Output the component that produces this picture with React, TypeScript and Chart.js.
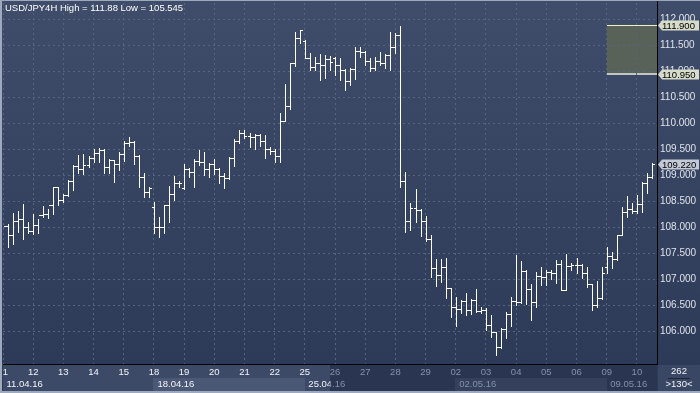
import React, { useEffect, useRef } from "react";
import { Chart, registerables } from "chart.js";

Chart.register(...registerables);

const chartTitle = "USD/JPY4H High = 111.88 Low = 105.545";
const dayLabels = ["11","12","13","14","15","18","19","20","21","22","25","26","27","28","29","02","03","04","05","06","09","10"];
const weekLabels = ["11.04.16","18.04.16","25.04.16","02.05.16","09.05.16"];
const weekStartDay = [0, 5, 10, 15, 20];
const barsPerDay = 6;
const totalSlots = 130;
const yTickValues = [106, 106.5, 107, 107.5, 108, 108.5, 109, 109.5, 110, 110.5, 111, 111.5, 112];
const levelMarkers = [111.9, 110.95];
const bidMarker = 109.22;
const zoneTop = 111.9;
const zoneBottom = 110.95;
const zoneStartBar = 120;
const barCountText = "262";
const visibleBarsText = ">130<";

const opens = [
108.063,108.025,107.852,108.127,108.165,108.000,107.929,108.044,108.237,108.250,
108.423,108.769,108.525,108.621,108.896,109.179,109.115,109.198,109.327,109.423,
109.486,109.165,109.288,109.211,109.410,109.627,109.646,109.371,108.962,108.673,
108.385,108.000,108.012,108.429,108.640,108.858,108.762,109.121,109.058,109.281,
109.250,109.121,109.217,109.121,108.987,108.942,109.327,109.665,109.819,109.756,
109.731,109.775,109.665,109.500,109.467,109.371,110.044,110.333,111.154,111.646,
111.583,111.261,111.088,111.154,111.121,111.236,111.250,111.121,111.025,110.819,
111.044,111.390,111.377,111.198,111.069,111.198,111.154,111.313,111.461,111.698,
108.890,108.121,108.365,108.333,108.121,107.769,107.212,107.083,107.231,106.827,
106.473,106.423,106.589,106.410,106.602,106.396,106.410,106.121,105.981,105.698,
106.039,106.323,106.583,106.569,107.160,106.808,106.563,107.063,107.044,107.140,
107.115,107.289,106.794,107.256,107.275,107.275,107.127,106.904,106.506,106.640,
107.242,107.448,107.385,107.852,108.300,108.346,108.319,108.442,108.846,108.962];

const highs = [
108.140,108.063,108.269,108.319,108.442,108.108,108.256,108.154,108.410,108.346,
108.781,108.781,108.640,108.910,109.198,109.390,109.404,109.371,109.500,109.531,
109.500,109.308,109.294,109.442,109.665,109.731,109.665,109.390,109.038,108.769,
108.492,108.192,108.429,108.794,108.986,108.896,109.217,109.146,109.308,109.486,
109.442,109.231,109.308,109.135,109.050,109.346,109.692,109.871,109.871,109.819,
109.794,109.794,109.775,109.539,109.500,110.204,110.756,111.165,111.761,111.794,
111.600,111.358,111.281,111.327,111.313,111.300,111.281,111.250,111.040,111.058,
111.461,111.473,111.400,111.262,111.281,111.377,111.327,111.761,111.731,111.880,
109.069,108.473,108.737,108.360,108.217,107.852,107.385,107.385,107.404,106.840,
106.665,106.602,106.731,106.615,106.808,106.473,106.442,106.313,105.992,106.058,
106.371,106.660,107.467,107.352,107.180,106.904,107.140,107.242,107.188,107.179,
107.371,107.371,107.487,107.319,107.404,107.290,107.242,106.910,106.967,107.237,
107.627,107.531,107.852,108.385,108.602,108.473,108.621,108.866,109.050,109.242];

const lows = [
107.948,107.615,107.679,107.915,107.769,107.884,107.865,107.884,108.204,108.185,
108.256,108.429,108.492,108.602,108.717,109.038,109.025,109.165,109.261,109.261,
109.038,109.038,108.877,109.102,109.281,109.569,109.211,108.781,108.588,108.588,
107.884,107.819,107.884,108.108,108.525,108.781,108.736,108.973,108.781,109.198,
109.006,108.973,109.025,108.858,108.750,108.923,109.185,109.627,109.711,109.550,
109.500,109.563,109.327,109.410,109.261,109.250,110.044,110.269,111.108,111.538,
111.250,111.025,111.025,110.833,110.865,111.025,110.929,110.833,110.640,110.736,
110.852,111.281,111.121,111.006,111.025,111.121,111.058,111.025,111.358,108.775,
107.915,107.948,108.108,107.833,107.742,107.050,106.871,106.954,106.635,106.269,
106.108,106.346,106.313,106.333,106.377,106.346,106.025,105.896,105.545,105.673,
105.871,106.102,106.506,106.540,106.525,106.217,106.467,106.890,106.881,107.006,
106.923,106.794,106.794,107.179,107.115,107.019,106.858,106.410,106.473,106.621,
107.115,107.212,107.371,107.852,108.204,108.269,108.269,108.300,108.665,108.942];

const closes = [
108.025,107.852,108.127,108.165,108.000,107.929,108.044,108.237,108.250,108.423,
108.769,108.525,108.621,108.896,109.179,109.115,109.198,109.327,109.423,109.486,
109.165,109.288,109.211,109.410,109.627,109.646,109.371,108.962,108.673,108.750,
108.000,108.012,108.429,108.640,108.858,108.846,109.121,109.058,109.281,109.250,
109.121,109.217,109.121,108.987,108.942,109.327,109.665,109.819,109.756,109.731,
109.775,109.665,109.500,109.467,109.371,110.044,110.333,111.154,111.646,111.794,
111.261,111.088,111.154,111.121,111.236,111.185,111.121,111.025,110.819,111.044,
111.390,111.377,111.198,111.069,111.198,111.154,111.313,111.461,111.698,108.890,
108.121,108.365,108.333,108.121,107.769,107.212,107.083,107.231,106.827,106.473,
106.423,106.589,106.410,106.602,106.396,106.410,106.121,105.981,105.698,106.039,
106.323,106.583,106.569,107.160,106.808,106.563,107.063,107.044,107.140,107.115,
107.289,106.794,107.256,107.275,107.275,107.127,106.904,106.506,106.640,107.115,
107.448,107.385,107.852,108.300,108.346,108.319,108.442,108.846,108.962,109.220];

const FONT = '"Liberation Sans", Arial, sans-serif';
const HIGHLIGHT_END = 65; // x-axis highlighted zone ends at this slot
const WHITE_TEXT = "#f2f4f8";
const GRAY_TEXT = "#8592aa";

const mtPlugin = {
  id: "mtLook",
  beforeDraw(chart: any) {
    const { ctx, width, height, chartArea: a } = chart;
    const xs = chart.scales.x;
    const ys = chart.scales.y;
    ctx.save();
    const g = ctx.createLinearGradient(0, 0, 0, height);
    g.addColorStop(0, "#3f4c6a");
    g.addColorStop(1, "#2b3856");
    ctx.fillStyle = g;
    ctx.fillRect(0, 0, width, height);
    const split = Math.round(xs.getPixelForValue(HIGHLIGHT_END));
    ctx.fillStyle = "#2a3551";
    ctx.fillRect(a.left, a.bottom, a.right - a.left, height - a.bottom);
    ctx.fillStyle = "#3d4a67";
    ctx.fillRect(a.left, a.bottom, split - a.left, height - a.bottom);
    for (let w = 1; w < weekStartDay.length; w += 2) {
      const x0 = Math.round(xs.getPixelForValue(weekStartDay[w] * barsPerDay)) - 1;
      const x1 = w + 1 < weekStartDay.length ? Math.round(xs.getPixelForValue(weekStartDay[w + 1] * barsPerDay)) : a.right;
      ctx.fillStyle = x0 < split ? "#4a5775" : "#34405c";
      ctx.fillRect(x0, a.bottom + 14, x1 - x0, 13);
    }
    ctx.fillStyle = "#3a4764";
    ctx.fillRect(a.right + 1, a.bottom + 1, width - a.right - 1, height - a.bottom - 1);

    // rectangle zone (grid is drawn over it afterwards)
    const zx = Math.round(xs.getPixelForValue(zoneStartBar));
    const yT = Math.round(ys.getPixelForValue(zoneTop));
    const yB = Math.round(ys.getPixelForValue(zoneBottom));
    ctx.fillStyle = "#586258";
    ctx.fillRect(zx, yT, a.right - zx, yB - yT);
    ctx.fillStyle = "#efefc4";
    ctx.fillRect(zx, yT, a.right - zx, 1);
    ctx.fillStyle = "#c4c6c4";
    ctx.fillRect(zx, yB - 1, a.right - zx, 2);
    ctx.restore();
  },
  afterDatasetsDraw(chart: any) {
    const { ctx, width, height, chartArea: a } = chart;
    const xs = chart.scales.x;
    const ys = chart.scales.y;
    const meta = chart.getDatasetMeta(0);

    // OHLC bars
    ctx.save();
    ctx.beginPath();
    ctx.rect(a.left + 1, a.top, a.right - a.left - 1, a.bottom - a.top);
    ctx.clip();
    ctx.fillStyle = "#ffffff";
    meta.data.forEach((el: any, i: number) => {
      const x = Math.round(el.x);
      const yh = Math.round(ys.getPixelForValue(highs[i]));
      const yl = Math.round(ys.getPixelForValue(lows[i]));
      const yo = Math.round(ys.getPixelForValue(opens[i]));
      const yc = Math.round(ys.getPixelForValue(closes[i]));
      ctx.fillRect(x, yh, 1, Math.max(1, yl - yh + 1));
      ctx.fillRect(x - 2, yo, 2, 1);
      ctx.fillRect(x + 1, yc, 2, 1);
    });
    ctx.restore();

    // re-draw the right axis line over the zone edge
    ctx.save();
    ctx.fillStyle = "#000000";
    ctx.fillRect(a.right, a.top - 3, 1, a.bottom - a.top + 3);
    ctx.restore();

    // price markers on the right axis
    const drawMarker = (v: number, fill: string) => {
      const yc = Math.round(ys.getPixelForValue(v)) + 0.5;
      const xl = a.right + 1;
      ctx.save();
      ctx.fillStyle = fill;
      ctx.beginPath();
      ctx.moveTo(xl, yc);
      ctx.lineTo(xl + 4, yc - 5);
      ctx.lineTo(width - 1, yc - 5);
      ctx.lineTo(width - 1, yc + 5);
      ctx.lineTo(xl + 4, yc + 5);
      ctx.closePath();
      ctx.fill();
      ctx.fillStyle = "#000000";
      ctx.font = "9.5px " + FONT;
      ctx.textAlign = "left";
      ctx.textBaseline = "middle";
      ctx.fillText(v.toFixed(3), a.right + 5, yc + 0.5);
      ctx.restore();
    };
    levelMarkers.forEach((v) => drawMarker(v, "#d7dbca"));
    drawMarker(bidMarker, "#c3c9d6");

    // title
    ctx.save();
    ctx.fillStyle = "#ffffff";
    ctx.font = "9.5px " + FONT;
    ctx.textAlign = "left";
    ctx.textBaseline = "middle";
    ctx.fillText(chartTitle, 5, 8.5);
    ctx.restore();

    // x axis labels (two rows), white in highlighted zone and gray beyond
    const split = Math.round(xs.getPixelForValue(HIGHLIGHT_END));
    const splitText = (text: string, x: number, y: number, align: any) => {
      [[a.left, split, WHITE_TEXT], [split, a.right, GRAY_TEXT]].forEach(([c0, c1, col]: any) => {
        ctx.save();
        ctx.beginPath();
        ctx.rect(c0, a.bottom + 1, c1 - c0, height - a.bottom - 1);
        ctx.clip();
        ctx.fillStyle = col;
        ctx.font = "9.5px " + FONT;
        ctx.textAlign = align;
        ctx.textBaseline = "middle";
        ctx.fillText(text, x, y);
        ctx.restore();
      });
    };
    dayLabels.forEach((d, i) => {
      splitText(d, xs.getPixelForValue(i * barsPerDay), a.bottom + 8.5, "center");
    });
    weekLabels.forEach((w, i) => {
      splitText(w, xs.getPixelForValue(weekStartDay[i] * barsPerDay) + 3.5, a.bottom + 20, "left");
    });

    // corner box
    ctx.save();
    const cx = (a.right + width) / 2 + 0.5;
    ctx.fillStyle = WHITE_TEXT;
    ctx.font = "9.5px " + FONT;
    ctx.textAlign = "center";
    ctx.textBaseline = "middle";
    ctx.fillText(barCountText, cx, a.bottom + 7.5);
    ctx.fillText(visibleBarsText, cx, a.bottom + 20.5);
    ctx.fillStyle = "#1c2333";
    ctx.fillRect(a.right + 11, a.bottom + 14, 22, 1);
    ctx.restore();

    // frame
    ctx.save();
    ctx.fillStyle = "#9ea9bd";
    ctx.fillRect(0, 0, 2, height);
    ctx.fillRect(0, 0, width, 1);
    ctx.fillRect(0, height - 2, width, 2);
    ctx.restore();
  },
};

export default function App() {
  const ref = useRef<HTMLCanvasElement | null>(null);
  useEffect(() => {
    if (!ref.current) return;
    const chart = new Chart(ref.current, {
      type: "bar",
      data: {
        datasets: [
          {
            label: "USD/JPY H4",
            data: highs.map((h, i) => ({ x: i, y: [lows[i], h] })) as any,
            backgroundColor: "rgba(0,0,0,0)",
            borderWidth: 0,
            barThickness: 1,
          },
        ],
      },
      options: {
        animation: false,
        responsive: false,
        maintainAspectRatio: false,
        devicePixelRatio: 1,
        events: [],
        layout: { padding: { left: 3, top: 3, right: 0, bottom: 0 } },
        plugins: { legend: { display: false }, tooltip: { enabled: false }, title: { display: false } },
        scales: {
          x: {
            type: "linear",
            min: 0,
            max: totalSlots,
            offset: false,
            grid: { color: "#56657f", lineWidth: 1, drawTicks: false, offset: false },
            border: { display: true, color: "#000000", width: 1, dash: [2, 3] },
            ticks: { display: false },
            afterBuildTicks: (s: any) => {
              s.ticks = dayLabels.map((_, i) => ({ value: i * barsPerDay }));
            },
            afterFit: (s: any) => {
              s.height = 29;
              s.paddingLeft = 0;
              s.paddingRight = 0;
            },
          },
          y: {
            type: "linear",
            position: "right",
            min: 105.371,
            max: 112.3135,
            grid: { color: "#56657f", lineWidth: 1, drawTicks: false },
            border: { display: true, color: "#000000", width: 1, dash: [2, 3] },
            ticks: {
              color: "#dfe3ea",
              padding: 3,
              font: { family: FONT, size: 10 },
              autoSkip: false,
              callback: (v: any) => Number(v).toFixed(3),
            },
            afterBuildTicks: (s: any) => {
              s.ticks = yTickValues.map((v) => ({ value: v }));
            },
            afterFit: (s: any) => {
              s.width = 43;
              s.paddingTop = 0;
              s.paddingBottom = 0;
            },
          },
        },
      },
      plugins: [mtPlugin],
    });
    return () => chart.destroy();
  }, []);
  return (
    <div style={{ position: "fixed", left: 0, top: 0, width: 700, height: 393 }}>
      <canvas ref={ref} width={700} height={393} style={{ display: "block", width: 700, height: 393 }} />
    </div>
  );
}
